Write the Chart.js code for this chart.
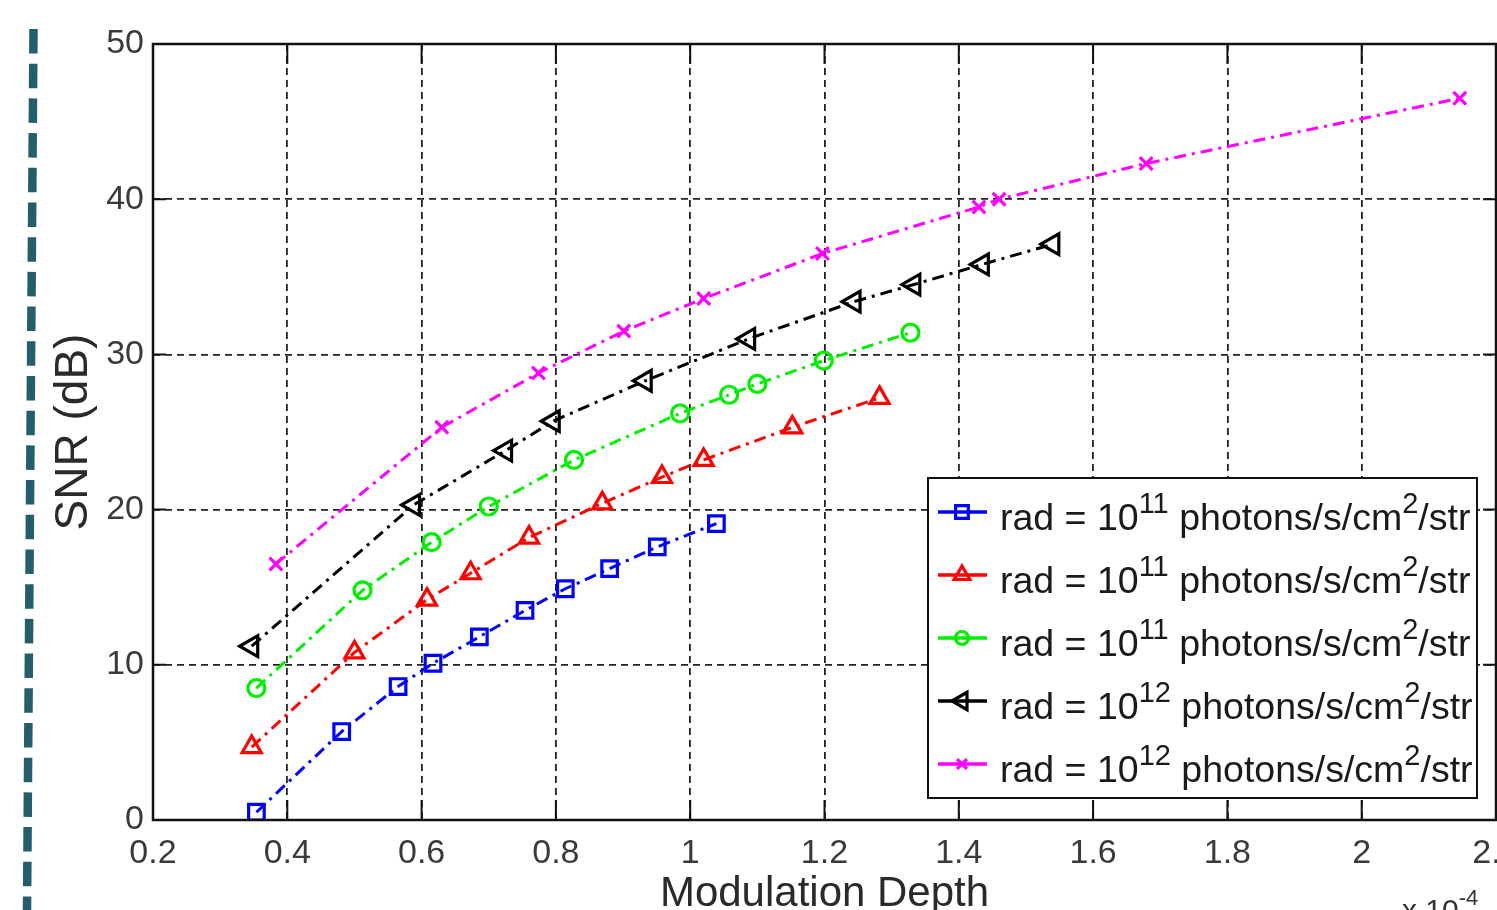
<!DOCTYPE html>
<html>
<head>
<meta charset="utf-8">
<script src="https://cdn.jsdelivr.net/npm/chart.js@4.4.1/dist/chart.umd.min.js"></script>
<style>
  html, body { margin: 0; padding: 0; background: #fff; overflow: hidden; }
  #wrap { width: 1497px; height: 910px; }
</style>
</head>
<body>
<div id="wrap"><canvas id="snrChart" width="1497" height="910"></canvas></div>
<script>
// valores (x em unidades de 1e-4)
const depthBlue  = [0.354, 0.481, 0.565, 0.617, 0.686, 0.754, 0.814, 0.880, 0.951, 1.039];
const snrBlue    = [0.5, 5.7, 8.6, 10.1, 11.8, 13.5, 14.9, 16.2, 17.6, 19.1];
const depthRed   = [0.347, 0.500, 0.608, 0.673, 0.760, 0.869, 0.958, 1.020, 1.152, 1.282];
const snrRed     = [4.7, 10.8, 14.2, 15.9, 18.2, 20.4, 22.1, 23.2, 25.3, 27.2];
const depthGreen = [0.354, 0.512, 0.615, 0.700, 0.827, 0.985, 1.058, 1.100, 1.199, 1.328];
const snrGreen   = [8.5, 14.8, 17.9, 20.2, 23.2, 26.2, 27.4, 28.1, 29.6, 31.4];
const depthBlack = [0.347, 0.588, 0.725, 0.796, 0.933, 1.087, 1.244, 1.333, 1.435, 1.540];
const snrBlack   = [11.2, 20.3, 23.8, 25.7, 28.3, 31.0, 33.4, 34.5, 35.8, 37.1];
const depthMag   = [0.383, 0.630, 0.774, 0.901, 1.020, 1.197, 1.430, 1.460, 1.679, 2.146];
const snrMag     = [16.5, 25.3, 28.8, 31.5, 33.6, 36.5, 39.5, 40.0, 42.3, 46.5];

const xTicks = [0.2, 0.4, 0.6, 0.8, 1, 1.2, 1.4, 1.6, 1.8, 2, 2.2];
const yTicks = [0, 10, 20, 30, 40, 50];
const legendExp = ['11', '11', '11', '12', '12'];

const fontSans = '"Liberation Sans", Arial, Helvetica, sans-serif';
const dashDot = [12, 6, 3, 6];

function pts(xs, ys) {
  return xs.map((x, i) => ({x: x, y: ys[i]}));
}

function serie(xs, ys, cor, estilo, raio, rot) {
  return {
    data: pts(xs, ys),
    borderColor: cor,
    backgroundColor: cor,
    borderWidth: 3,
    borderDash: dashDot,
    pointStyle: estilo,
    pointRadius: raio,
    pointRotation: rot || 0,
    pointBorderWidth: 3.2,
    pointBorderColor: cor,
    pointBackgroundColor: 'rgba(0,0,0,0)',
    fill: false,
    tension: 0
  };
}

// moldura, ticks internos, legenda e enfeites
const molduraPlugin = {
  id: 'moldura',
  afterDraw(chart) {
    const ctx = chart.ctx;
    const a = chart.chartArea;
    const sx = chart.scales.x, sy = chart.scales.y;
    ctx.save();
    ctx.strokeStyle = '#111';
    ctx.lineWidth = 2;
    ctx.setLineDash([]);
    ctx.beginPath();
    xTicks.forEach(v => {
      const px = sx.getPixelForValue(v);
      ctx.moveTo(px, a.bottom); ctx.lineTo(px, a.bottom - 20);
      ctx.moveTo(px, a.top); ctx.lineTo(px, a.top + 20);
    });
    yTicks.forEach(v => {
      const py = sy.getPixelForValue(v);
      ctx.moveTo(a.left, py); ctx.lineTo(a.left + 13, py);
      ctx.moveTo(a.right, py); ctx.lineTo(a.right - 13, py);
    });
    ctx.stroke();

    // legenda
    const lw = 549, lh = 320;
    const lx = a.right - 19 - lw, ly = a.bottom - 22 - lh;
    ctx.fillStyle = '#fff';
    ctx.fillRect(lx, ly, lw, lh);
    ctx.lineWidth = 2;
    ctx.strokeStyle = '#111';
    ctx.strokeRect(lx, ly, lw, lh);

    chart.data.datasets.forEach((ds, i) => {
      const cy = ly + 34 + i * 63;
      ctx.save();
      ctx.strokeStyle = ds.borderColor;
      ctx.lineWidth = 3.5;
      ctx.setLineDash([]);
      ctx.beginPath();
      ctx.moveTo(lx + 10, cy); ctx.lineTo(lx + 59, cy);
      ctx.stroke();
      ctx.fillStyle = 'rgba(0,0,0,0)';
      ctx.lineWidth = 3.2;
      Chart.helpers.drawPoint(ctx, {
        pointStyle: ds.pointStyle,
        rotation: ds.pointRotation,
        radius: ds.pointRadius - 2,
        borderWidth: 3.2
      }, lx + 34, cy);
      ctx.restore();

      // texto com sobrescritos
      const base = cy + 18;
      let tx = lx + 72;
      ctx.fillStyle = '#1a1a1a';
      ctx.textBaseline = 'alphabetic';
      ctx.textAlign = 'left';
      const big = '37.5px ' + fontSans, small = '29px ' + fontSans;
      const partes = [
        ['rad = 10', big, 0],
        [legendExp[i], small, -17],
        [' photons/s/cm', big, 0],
        ['2', small, -17],
        ['/str', big, 0]
      ];
      partes.forEach(p => {
        ctx.font = p[1];
        ctx.fillText(p[0], tx, base + p[2]);
        tx += ctx.measureText(p[0]).width;
      });
    });

    // moldura completa
    ctx.lineWidth = 2.5;
    ctx.strokeStyle = '#111';
    ctx.strokeRect(a.left, a.top, a.right - a.left, a.bottom - a.top);

    // fator de escala do eixo x
    ctx.fillStyle = '#333';
    ctx.font = '30px ' + fontSans;
    ctx.fillText('x 10', 1402, 920);
    let w = ctx.measureText('x 10').width;
    ctx.font = '22px ' + fontSans;
    ctx.fillText('-4', 1402 + w, 905);

    // linha tracejada da margem esquerda
    ctx.strokeStyle = '#245d6b';
    ctx.lineWidth = 8.5;
    ctx.setLineDash([24.5, 10.2]);
    ctx.beginPath();
    ctx.moveTo(33.5, 29);
    ctx.lineTo(27, 912);
    ctx.stroke();
    ctx.restore();
  }
};

const ctx = document.getElementById('snrChart').getContext('2d');
const snrChart = new Chart(ctx, {
  type: 'line',
  data: {
    datasets: [
      serie(depthBlue, snrBlue, '#0000ff', 'rect', 11),
      serie(depthRed, snrRed, '#ff0000', 'triangle', 11),
      serie(depthGreen, snrGreen, '#00ee00', 'circle', 8.5),
      serie(depthBlack, snrBlack, '#000000', 'triangle', 12, -90),
      serie(depthMag, snrMag, '#ff00ff', 'crossRot', 9)
    ]
  },
  options: {
    responsive: false,
    animation: false,
    events: [],
    layout: { autoPadding: false, padding: { left: 0, right: 1, top: 44, bottom: 0 } },
    plugins: {
      legend: { display: false },
      tooltip: { enabled: false }
    },
    scales: {
      x: {
        type: 'linear',
        min: 0.2,
        max: 2.2,
        afterBuildTicks: s => { s.ticks = xTicks.map(v => ({value: v})); },
        afterFit: s => {
          s.height = 90;
          s.paddingLeft = 0; s.paddingRight = 0;
        },
        grid: { color: '#222', lineWidth: 1.8, drawTicks: false },
        border: { display: false, dash: [7, 5] },
        ticks: {
          autoSkip: false,
          maxRotation: 0,
          padding: 13,
          color: '#3a3a3a',
          font: { family: fontSans, size: 34 },
          callback: v => String(Number(v.toFixed(1)))
        },
        title: {
          display: true,
          text: 'Modulation Depth',
          color: '#2a2a2a',
          font: { family: fontSans, size: 42 },
          padding: { top: 0, bottom: -10 }
        }
      },
      y: {
        min: 0,
        max: 50,
        afterBuildTicks: s => { s.ticks = yTicks.map(v => ({value: v})); },
        afterFit: s => {
          s.width = 153;
          s.paddingTop = 0; s.paddingBottom = 0;
        },
        grid: { color: '#222', lineWidth: 1.8, drawTicks: false },
        border: { display: false, dash: [7, 5] },
        ticks: {
          padding: 9,
          color: '#3a3a3a',
          font: { family: fontSans, size: 34 }
        },
        title: {
          display: true,
          text: 'SNR (dB)',
          color: '#2a2a2a',
          font: { family: fontSans, size: 46 },
          padding: { top: 47, bottom: 0 }
        }
      }
    }
  },
  plugins: [molduraPlugin]
});
</script>
</body>
</html>
